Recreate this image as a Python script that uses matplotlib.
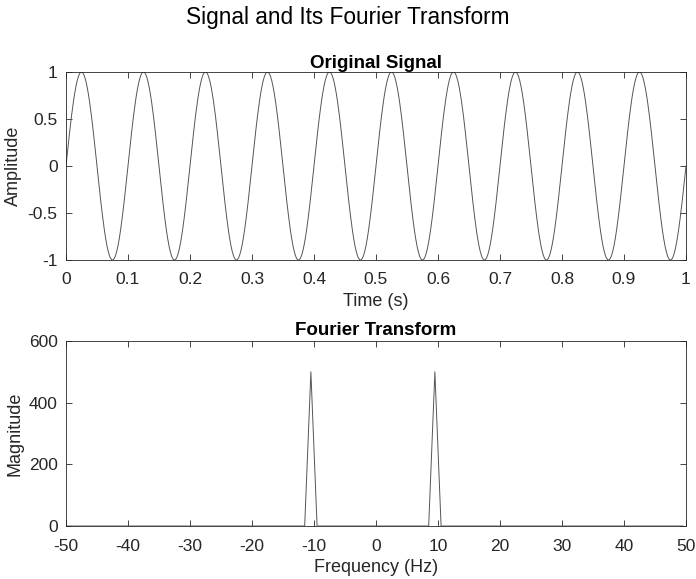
import numpy as np
import matplotlib
matplotlib.use("Agg")
import matplotlib.pyplot as plt

# dados
signal_freq = 10          # Hz, senoide de 10 periodos em 1 s
signal_amp = 1.0
time_ticks = [0, 0.1, 0.2, 0.3, 0.4, 0.5, 0.6, 0.7, 0.8, 0.9, 1]
amp_ticks = [-1, -0.5, 0, 0.5, 1]

bin_start = -50.5         # eixo de frequencia com passo de 1 Hz (deslocado 0.5)
bin_stop = 50.5
bin_step = 1.0
peak_freqs = [-10.5, 9.5]
peak_mags = [500, 500]
freq_ticks = [-50, -40, -30, -20, -10, 0, 10, 20, 30, 40, 50]
mag_ticks = [0, 200, 400, 600]

plt.rcParams["font.family"] = ["Liberation Sans", "DejaVu Sans"]
plt.rcParams["axes.unicode_minus"] = False

t = np.linspace(0, 1, 1001)
x = signal_amp * np.sin(2 * np.pi * signal_freq * t)

freqs = np.arange(bin_start, bin_stop, bin_step)
mags = np.zeros_like(freqs)
for f, m in zip(peak_freqs, peak_mags):
    mags[np.argmin(np.abs(freqs - f))] = m

fig = plt.figure(figsize=(6.96, 5.79), dpi=100)
ax1 = fig.add_axes([0.0948, 0.551, 0.8908, 0.3247])
ax2 = fig.add_axes([0.0948, 0.0915, 0.8908, 0.3196])

line_col = "#555555"
frame_col = "#262626"

ax1.plot(t, x, color=line_col, lw=0.7)
ax1.set_xlim(0, 1)
ax1.set_ylim(-1, 1)
ax1.set_xticks(time_ticks)
ax1.set_xticklabels([f"{v:g}" for v in time_ticks])
ax1.set_yticks(amp_ticks)
ax1.set_yticklabels([f"{v:g}" for v in amp_ticks])
ax1.set_title("Original Signal", fontweight="bold", fontsize=13.5, pad=3,
              color="black")
ax1.set_xlabel("Time (s)", fontsize=13, labelpad=4, color=frame_col)
ax1.set_ylabel("Amplitude", fontsize=13, labelpad=4, color=frame_col)

ax2.plot(freqs, mags, color=line_col, lw=0.7)
ax2.set_xlim(-50, 50)
ax2.set_ylim(0, 600)
ax2.set_xticks(freq_ticks)
ax2.set_yticks(mag_ticks)
ax2.set_title("Fourier Transform", fontweight="bold", fontsize=13.5, pad=4,
              color="black")
ax2.set_xlabel("Frequency (Hz)", fontsize=13, labelpad=4, color=frame_col)
ax2.set_ylabel("Magnitude", fontsize=13, labelpad=4, color=frame_col)

for ax in (ax1, ax2):
    ax.tick_params(direction="in", top=True, right=True, length=4,
                   width=0.6, colors=frame_col, labelsize=12.5)
    ax.tick_params(axis="x", pad=9)
    ax.tick_params(axis="y", pad=6)
    for s in ax.spines.values():
        s.set_color(frame_col)
        s.set_linewidth(0.6)

fig.suptitle("Signal and Its Fourier Transform", fontsize=16.3, y=0.99)

fig.savefig("out.png", dpi=100)
